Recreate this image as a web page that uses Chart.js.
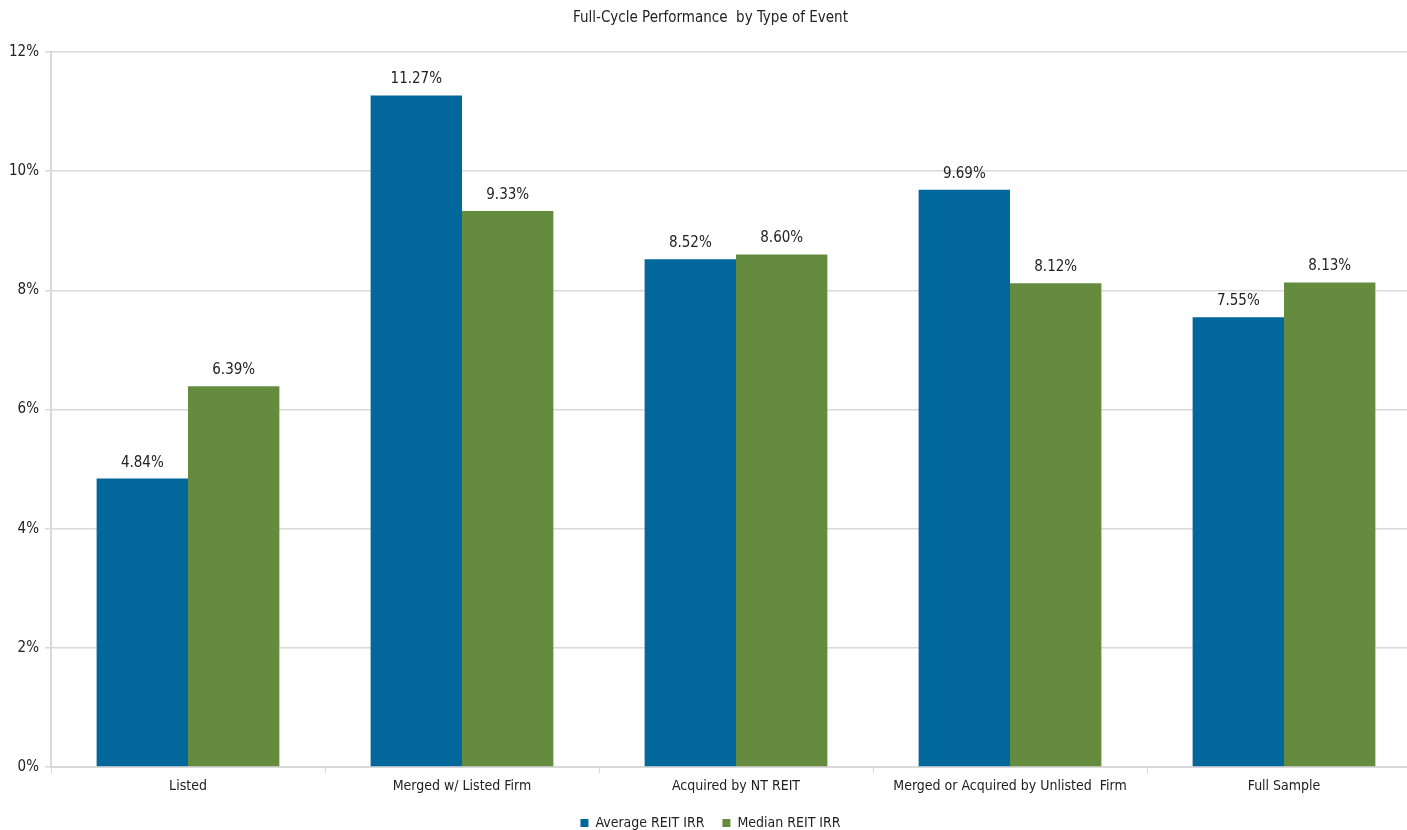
<!DOCTYPE html>
<html>
<head>
<meta charset="utf-8">
<script src="https://cdn.jsdelivr.net/npm/chart.js@4.4.0/dist/chart.umd.min.js"></script>
<style>
  html, body { margin: 0; padding: 0; background: #fff; overflow: hidden; }
  #wrap { width: 1421px; height: 840px; position: relative; }
</style>
</head>
<body>
<div id="wrap"><canvas id="irrChart"></canvas></div>
<script>
const categories = ["Listed", "Merged w/ Listed Firm", "Acquired by NT REIT", "Merged or Acquired by Unlisted  Firm", "Full Sample"];
const averageIrr = [4.84, 11.27, 8.52, 9.69, 7.55];
const medianIrr = [6.39, 9.33, 8.60, 8.12, 8.13];
const yTicks = [0, 2, 4, 6, 8, 10, 12];

const FONT = "'Liberation Sans Narrow', 'DejaVu Sans Condensed', sans-serif";

// draw value labels above each bar
const barLabels = {
    id: "barLabels",
    afterDatasetsDraw(chart) {
        const ctx = chart.ctx;
        ctx.save();
        ctx.font = "15px " + FONT;
        ctx.fillStyle = "#222";
        ctx.textAlign = "center";
        ctx.textBaseline = "middle";
        chart.data.datasets.forEach((ds, i) => {
            chart.getDatasetMeta(i).data.forEach((bar, j) => {
                ctx.fillText(ds.data[j].toFixed(2) + "%", bar.x, bar.y - 16);
            });
        });
        ctx.restore();
    }
};

new Chart(document.getElementById("irrChart"), {
    type: "bar",
    data: {
        labels: categories,
        datasets: [
            { label: "Average REIT IRR", data: averageIrr, backgroundColor: "#02679a" },
            { label: "Median REIT IRR", data: medianIrr, backgroundColor: "#658b3f" }
        ]
    },
    options: {
        responsive: true,
        maintainAspectRatio: false,
        animation: false,
        layout: { padding: 0 },
        datasets: { bar: { categoryPercentage: 0.667, barPercentage: 1.0 } },
        plugins: {
            title: {
                display: true,
                text: "Full-Cycle Performance  by Type of Event",
                color: "#222",
                font: { family: FONT, size: 15, weight: "normal" },
                padding: { top: 9, bottom: 25 }
            },
            legend: {
                position: "bottom",
                labels: {
                    color: "#222",
                    font: { family: FONT, size: 14 },
                    boxWidth: 8,
                    boxHeight: 8,
                    padding: 18
                }
            },
            tooltip: { enabled: false }
        },
        scales: {
            x: {
                afterFit(scale) { scale.height = 31; },
                grid: {
                    drawOnChartArea: false,
                    drawTicks: true,
                    tickLength: 6,
                    color: "#d9d9d9"
                },
                border: { color: "#d9d9d9", width: 2 },
                ticks: {
                    color: "#222",
                    font: { family: FONT, size: 14 },
                    maxRotation: 0,
                    padding: 5
                }
            },
            y: {
                min: 0,
                max: 12,
                afterBuildTicks(scale) {
                    scale.ticks = yTicks.map(v => ({ value: v }));
                },
                afterFit(scale) { scale.width = 51; },
                grid: { color: "#d9d9d9", lineWidth: 1.5, tickLength: 6 },
                border: { color: "#d9d9d9", width: 2 },
                ticks: {
                    color: "#222",
                    font: { family: FONT, size: 15 },
                    padding: 6,
                    callback: v => v + "%"
                }
            }
        }
    },
    plugins: [barLabels]
});
</script>
</body>
</html>
